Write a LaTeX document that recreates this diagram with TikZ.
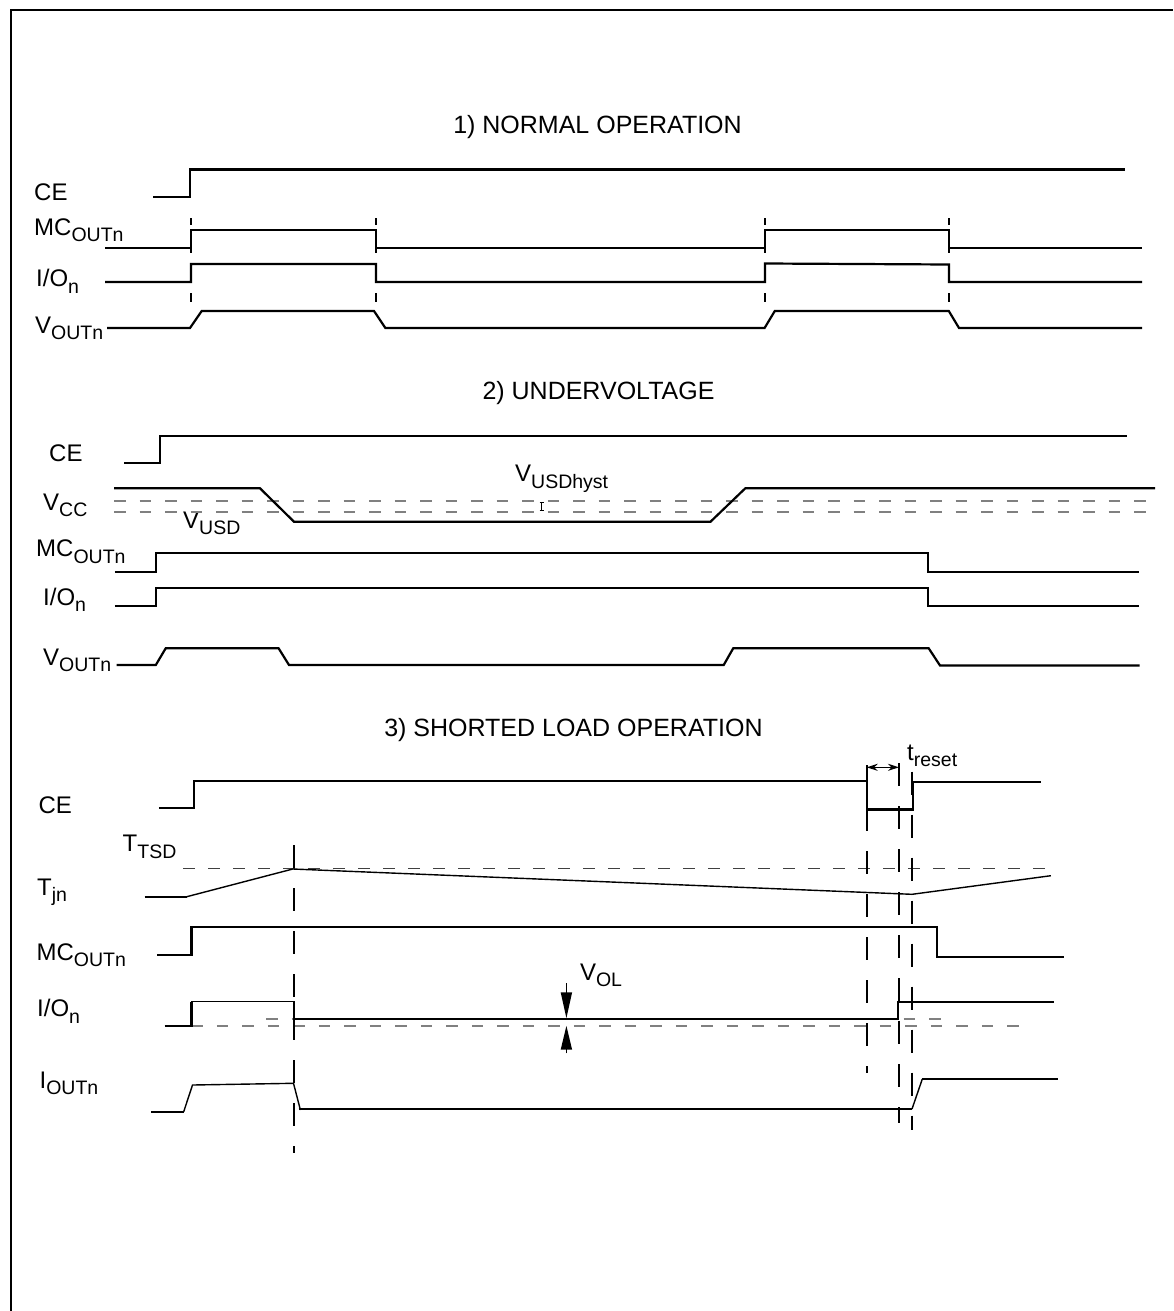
\documentclass[tikz,border=0pt]{standalone}
\usepackage{fontspec}
\setmainfont{Liberation Sans}
\usetikzlibrary{arrows.meta}
\newcommand{\lsub}[1]{\raisebox{-6.5pt}{\fontsize{19.5pt}{20pt}\selectfont #1}}
\begin{document}
\begin{tikzpicture}[x=1pt,y=-1pt,
  sig/.style={line width=2.2pt,line join=miter},
  thin/.style={line width=1.4pt,line join=miter},
  guide/.style={line width=2.3pt,dash pattern=on 23pt off 20pt},
  tick/.style={line width=2.3pt},
  gdash/.style={line width=1.8pt,draw=black!50,dash pattern=on 11.5pt off 14pt},
  tdash/.style={line width=1pt,draw=black!75,dash pattern=on 12pt off 13pt},
  lbl/.style={anchor=base west,inner sep=0pt,font=\fontsize{24pt}{26pt}\selectfont},
  ttl/.style={anchor=base,inner sep=0pt,font=\fontsize{25pt}{27pt}\selectfont}]
\useasboundingbox (0,0) rectangle (1173,1311);
% frame
\draw[line width=2.2pt] (11,1311) -- (11,10) -- (1173,10);

% ===== 1) NORMAL OPERATION =====
\node[ttl] (t1) at (597.5,134) {1) NORMAL OPERATION};
\node[lbl] (ce1) at (34,200.7) {CE};
\node[lbl] (mc1) at (34,235) {MC\lsub{OUTn}};
\node[lbl] (io1) at (36,286.7) {I/O\lsub{n}};
\node[lbl] (vo1) at (35,333.3) {V\lsub{OUTn}};
\draw[sig] (153,197) -- (190,197) -- (190,169.5) -- (1125,169.5);
\draw[sig] (105,248) -- (191,248) -- (191,230) -- (376,230) -- (376,248) -- (765,248) -- (765,230) -- (949,230) -- (949,248) -- (1142,248);
\draw[sig] (105,282) -- (191,282) -- (191,264) -- (376,264) -- (376,282) -- (765,282) -- (765,263.5) -- (949,264.5) -- (949,282) -- (1142,282);
\draw[sig] (107,328) -- (190,328) -- (201.7,311) -- (374,311) -- (385.4,328) -- (764.6,328) -- (774.8,311) -- (948.8,311) -- (959,328) -- (1142,328);
\foreach \x in {191,376,765,949}{
  \draw[tick] (\x,218.3) -- (\x,224.5);
  \draw[tick] (\x,248) -- (\x,252.5);
  \draw[tick] (\x,293.3) -- (\x,301.7);
}

% ===== 2) UNDERVOLTAGE =====
\node[ttl] (t2) at (598.5,399.3) {2) UNDERVOLTAGE};
\node[lbl] (ce2) at (49,461.7) {CE};
\node[lbl] (vcc) at (43,510) {V\lsub{CC}};
\node[lbl] (vusd) at (183,528.3) {V\lsub{USD}};
\node[lbl] (vhy) at (515,481.7) {V\lsub{USDhyst}};
\node[lbl] (mc2) at (36,556.7) {MC\lsub{OUTn}};
\node[lbl] (io2) at (43,605) {I/O\lsub{n}};
\node[lbl] (vo2) at (43,665) {V\lsub{OUTn}};
\draw[gdash] (114,501) -- (1155,501);
\draw[gdash] (114,511.7) -- (1155,511.7);
\draw[line width=1pt] (541.7,502.5) -- (541.7,510.5) (539.5,502.5) -- (544,502.5) (539.5,510.5) -- (544,510.5);
\draw[sig] (124.4,462.7) -- (160,462.7) -- (160,435.7) -- (1126.5,435.7);
\draw[sig] (114,488.3) -- (260,488.3) -- (294,521.7) -- (710.5,521.7) -- (745.3,488.3) -- (1155,488.3);
\draw[sig] (114.8,571.7) -- (155.8,571.7) -- (155.8,552.7) -- (928,552.7) -- (928,571.7) -- (1139,571.7);
\draw[sig] (114.8,606) -- (155.8,606) -- (155.8,587.7) -- (928,587.7) -- (928,606) -- (1139,606);
\draw[sig] (116.7,665) -- (155.8,665) -- (165.7,648.3) -- (278.6,648.3) -- (289,665) -- (723.7,665) -- (733.2,648.3) -- (928.7,648.3) -- (940,665.5) -- (1139.7,665.5);

% ===== 3) SHORTED LOAD OPERATION =====
\node[ttl] (t3) at (573.4,736.7) {3) SHORTED LOAD OPERATION};
\node[lbl] (ce3) at (38.3,813.3) {CE};
\node[lbl] (ttsd) at (122.5,851.7) {T\lsub{TSD}};
\node[lbl] (tjn) at (37,895) {T\lsub{jn}};
\node[lbl] (mc3) at (36.4,960) {MC\lsub{OUTn}};
\node[lbl] (io3) at (37,1016.7) {I/O\lsub{n}};
\node[lbl] (vol) at (579.8,980) {V\lsub{OL}};
\node[lbl] (iout) at (39.4,1088.3) {I\lsub{OUTn}};
\node[lbl] (tres) at (907,760) {t\lsub{reset}};

% reference dashed levels
\draw[tdash] (183,868.3) -- (1057.3,868.3);
\draw[gdash] (191.4,1025.7) -- (1032,1025.7);
\draw[gdash] (266,1019) -- (942,1019);

% vertical guides
\draw[guide] (293.9,845) -- (293.9,1152.7);
\draw[guide] (866.7,765) -- (866.7,1072.7);
\draw[guide] (898.8,763) -- (898.8,1122.7);
\draw[guide] (912,771.7) -- (912,1130);

% t_reset dimension
\coordinate (ra) at (866.7,767.3);
\coordinate (rb) at (899,767.3);
\draw[line width=1.6pt,{Stealth[length=11pt,width=7pt]}-{Stealth[length=11pt,width=7pt]}] (ra) -- (rb);

% CE
\draw[sig] (158.8,808.3) -- (194,808.3) -- (194,780.7) -- (866.7,780.7) -- (866.7,809.5) -- (912.7,809.5) -- (912.7,781.7) -- (1040.7,781.7);
% Tjn
\draw[sig] (144.7,896.7) -- (186.8,896.7);
\draw[thin] (186.8,896.7) -- (292.8,869) -- (912,894.3) -- (1050.9,875.7);
% MC
\draw[sig] (157,955) -- (191.4,955) -- (191.4,926.7) -- (936.7,926.7) -- (936.7,956.7) -- (1064,956.7);
% I/O
\draw[sig] (164.6,1025.7) -- (191.4,1025.7) -- (191.4,1001.7);
\draw[thin] (191.4,1001.7) -- (293.9,1001.7) -- (293.9,1019);
\draw[sig] (293.9,1019) -- (897.7,1019) -- (897.7,1001.7) -- (1054,1001.7);
% V_OL arrows
\coordinate (va) at (566.4,983);
\coordinate (vb) at (566.4,1018.3);
\coordinate (vc) at (566.4,1053.3);
\coordinate (vd) at (566.4,1025.7);
\draw[line width=1.6pt,-{Triangle[length=26pt,width=11pt]}] (va) -- (vb);
\draw[line width=1.6pt,-{Triangle[length=24pt,width=11pt]}] (vc) -- (vd);
% I_OUTn
\draw[sig] (151.2,1111.7) -- (183.7,1111.7);
\draw[thin] (183.7,1111.7) -- (192.5,1085) -- (293.5,1083.3) -- (300.4,1110);
\draw[sig] (298.5,1109) -- (912,1109);
\draw[thin] (912,1109) -- (922.3,1079);
\draw[sig] (922.3,1079) -- (1057.7,1079);
\end{tikzpicture}
\end{document}
